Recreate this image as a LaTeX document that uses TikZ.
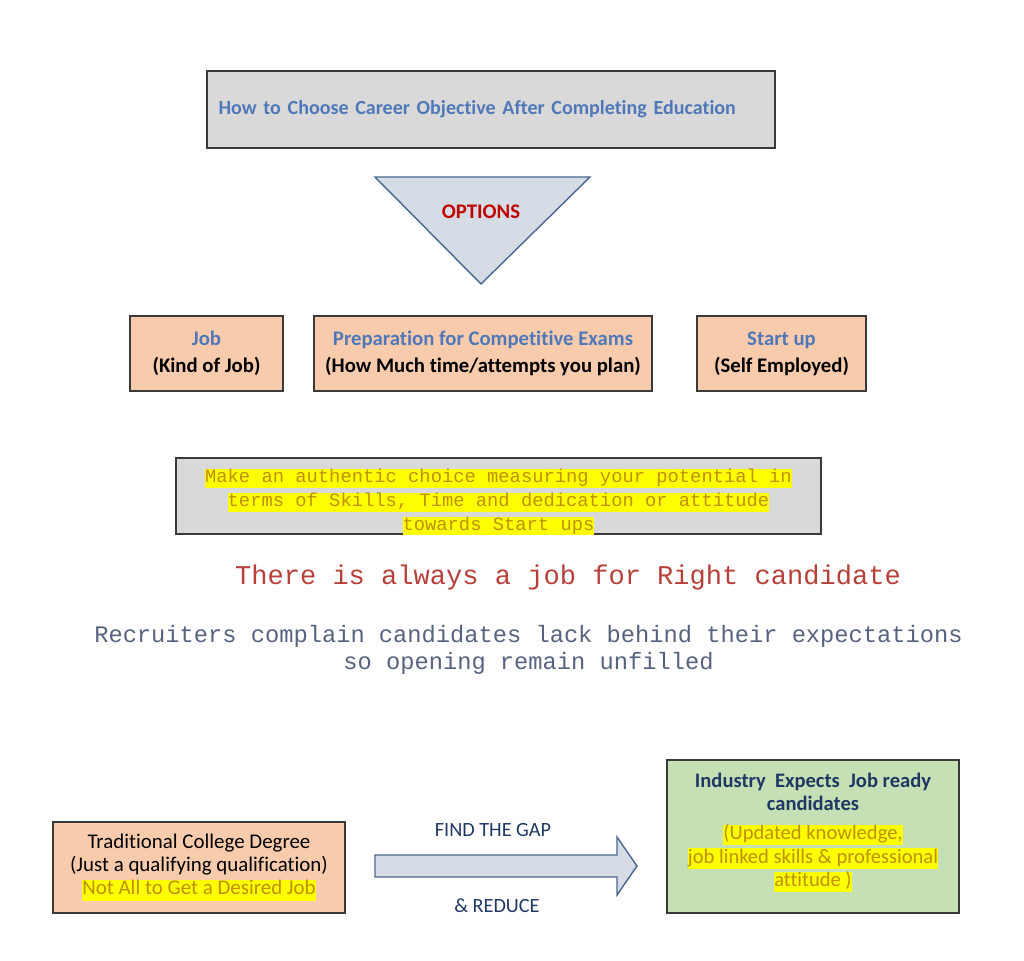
\documentclass[tikz,border=0pt]{standalone}
\usepackage{fontspec}
\setmainfont{Carlito}[Ligatures=NoCommon]
\setmonofont{Liberation Mono}
\usetikzlibrary{positioning}

\definecolor{panelgray}{HTML}{D9D9D9}
\definecolor{boxedge}{HTML}{3A3A3A}
\definecolor{peach}{HTML}{F8CBAD}
\definecolor{leafgreen}{HTML}{C5E0B4}
\definecolor{trifill}{HTML}{D6DCE5}
\definecolor{triedge}{HTML}{4A6590}
\definecolor{headblue}{HTML}{4F78BA}
\definecolor{optred}{HTML}{C00000}
\definecolor{navy}{HTML}{1F3864}
\definecolor{hlyellow}{HTML}{FFFF00}
\definecolor{hltext}{HTML}{BF9000}
\definecolor{quotered}{HTML}{B8403A}
\definecolor{slate}{HTML}{56627E}

% yellow marker behind one line of text
\newcommand{\hlbox}[1]{{\setlength{\fboxsep}{0pt}\colorbox{hlyellow}{\rule[-0.27em]{0pt}{1.0em}#1}}}

\begin{document}
\begin{tikzpicture}[
    box/.style={draw=boxedge, line width=0.9pt, align=center, inner sep=0pt},
    optbox/.style={box, fill=peach, minimum height=1.5cm, font=\fontsize{11.8}{15.4}\selectfont\bfseries},
    mono/.style={font=\ttfamily, align=center, inner sep=0pt},
    gaptext/.style={font=\fontsize{11.5}{13}\selectfont, text=navy}
]
    \useasboundingbox (0,0) rectangle (20.48,-19.22);

    % Title panel
    \node[box, fill=panelgray, minimum height=1.54cm, text width=10.9cm, inner xsep=0.23cm,
          align=left, font=\fontsize{11.4}{13}\selectfont\bfseries, text=headblue] (title) at (9.82,-2.19)
        {\raisebox{-1.5pt}{How to Choose Career Objective After Completing Education}};

    % Options funnel
    \draw[fill=trifill, draw=triedge, line width=0.8pt] (7.5,-3.54) -- (11.8,-3.54) -- (9.62,-5.68) -- cycle;
    \node[font=\fontsize{11.8}{13}\selectfont\bfseries, text=optred] (options) at (9.62,-4.24) {OPTIONS};

    % The three options
    \node[optbox, minimum width=3.06cm] (job) at (4.13,-7.07)
        {\textcolor{headblue}{Job} \\ (Kind of Job)};
    \node[optbox, minimum width=6.76cm] (exams) at (9.66,-7.07)
        {\textcolor{headblue}{Preparation for Competitive Exams} \\ (How Much time/attempts you plan)};
    \node[optbox, minimum width=3.38cm] (startup) at (15.63,-7.07)
        {\textcolor{headblue}{Start up} \\ (Self Employed)};

    % Advice panel (last line runs off the bottom edge)
    \node[box, fill=panelgray, minimum width=12.9cm, minimum height=1.52cm] (advice) at (9.97,-9.92) {};
    \begin{scope}
        \clip (advice.south west) rectangle (advice.north east);
        \node[mono, font=\ttfamily\fontsize{10.7}{13.6}\selectfont, text=hltext] (advicetxt) at (9.97,-10.05)
            {\hlbox{Make an authentic choice measuring your potential in} \\
             \hlbox{terms of Skills, Time and dedication or attitude} \\
             \hlbox{towards Start ups}};
    \end{scope}

    % Remarks
    \node[mono, font=\ttfamily\fontsize{15.4}{18}\selectfont, text=quotered] (rightjob) at (11.36,-11.54)
        {There is always a job for Right candidate};
    \node[mono, font=\ttfamily\fontsize{13.5}{15.4}\selectfont, text=slate] (recruiters) at (10.57,-12.99)
        {Recruiters complain candidates lack behind their expectations \\ so opening remain unfilled};

    % Gap between degree and industry
    \node[box, fill=peach, minimum width=5.84cm, minimum height=1.82cm,
          font=\fontsize{11.9}{13.1}\selectfont] (degree) at (3.98,-17.35)
        {Traditional College Degree \\ (Just a qualifying qualification) \\
         \textcolor{hltext}{\hlbox{Not All to Get a Desired Job}}};
    \node[box, fill=leafgreen, minimum width=5.84cm, minimum height=3.06cm] (industry) at (16.26,-16.73) {};
    \node[align=center, inner sep=0pt, font=\fontsize{11.7}{13.4}\selectfont] (industrytxt) at (16.26,-16.65)
        {\textcolor{navy}{\textbf{Industry\ \ Expects\ \ Job ready}} \\
         \textcolor{navy}{\textbf{candidates}} \\[3pt]
         \textcolor{hltext}{\hlbox{(Updated knowledge,}} \\
         \textcolor{hltext}{\hlbox{job linked skills \& professional}} \\
         \textcolor{hltext}{\hlbox{attitude )}}};

    % block arrow
    \draw[draw=triedge, fill=trifill, line width=0.8pt]
        (7.5,-17.1) -- (12.34,-17.1) -- (12.34,-16.74) -- (12.74,-17.32)
        -- (12.34,-17.9) -- (12.34,-17.54) -- (7.5,-17.54) -- cycle;
    \node[gaptext] (findgap) at (9.86,-16.6) {FIND THE GAP};
    \node[gaptext] (reduce) at (9.94,-18.12) {\& REDUCE};
\end{tikzpicture}
\end{document}
